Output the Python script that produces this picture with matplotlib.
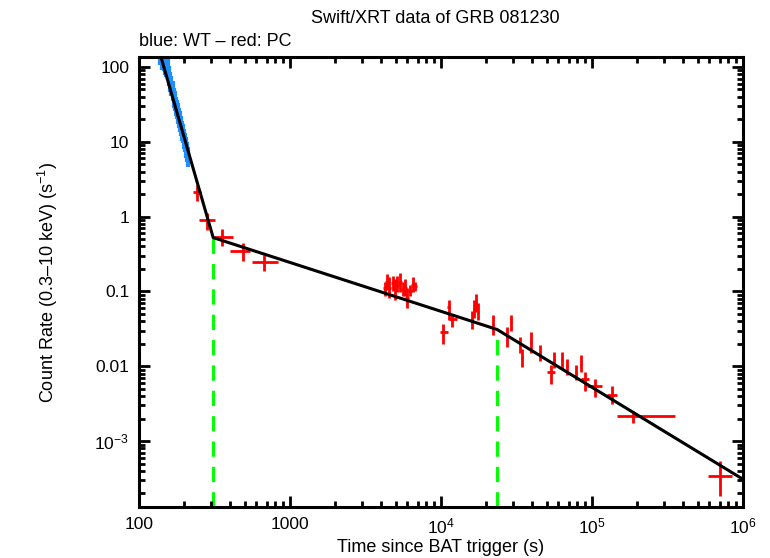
import matplotlib
matplotlib.use('Agg')
import numpy as np
import matplotlib.pyplot as plt
from matplotlib.ticker import LogLocator, FixedLocator, FixedFormatter, NullFormatter

plt.rcParams['font.family'] = ['Liberation Sans', 'DejaVu Sans']
plt.rcParams['mathtext.fontset'] = 'custom'
plt.rcParams['mathtext.rm'] = 'Liberation Sans'
plt.rcParams['mathtext.it'] = 'Liberation Sans'

# WT mode data (blue)
wt_t = [137, 140, 143, 146, 149, 152, 155, 158, 161, 164, 167, 170, 173,
        176, 179, 182, 185, 188, 191, 194, 197, 200, 203, 206, 209, 212]
wt_rate = [150, 150, 132, 125, 112, 105, 98, 80, 66, 58, 50, 40, 37,
           31, 28, 25, 22, 19.5, 17, 14.5, 13.5, 11.5, 10.2, 8.8, 7.6, 6.6]
wt_err = [45, 45, 40, 38, 34, 32, 30, 24, 20, 17, 15, 12, 11,
          9, 8, 7.5, 6.5, 6, 5, 4.3, 4, 3.4, 3, 2.7, 2.3, 2.0]

# PC mode data (red): time, time bin edges, rate, rate bounds
pc_t = [242, 282, 355, 489, 673,
        4259, 4389, 4527, 4812, 4957, 5114, 5350, 5598, 5777, 5954, 6230, 6527, 6728,
        10300, 11220, 11920, 16030, 16540, 17070, 17600, 22090, 27350, 29080,
        33340, 34370, 39450, 45300, 53460, 56000, 63200, 68200, 78300, 84600,
        89900, 104800, 135500, 187000, 705000]
pc_tlo = [228, 250, 314, 401, 560,
          4150, 4280, 4410, 4690, 4830, 4980, 5210, 5450, 5630, 5800, 6070, 6360, 6560,
          9840, 11000, 11300, 15700, 16200, 16700, 17250, 21650, 26800, 28500,
          32700, 33700, 38650, 44400, 50380, 54900, 61900, 66800, 76700, 82900,
          85000, 92700, 125600, 146500, 586000]
pc_thi = [258, 318, 420, 543, 833,
          4370, 4500, 4640, 4930, 5080, 5240, 5490, 5740, 5920, 6110, 6390, 6690, 6900,
          11120, 11450, 12770, 16350, 16900, 17450, 17950, 22550, 27900, 29650,
          34000, 35050, 40250, 46200, 56900, 57100, 64500, 69600, 79900, 86300,
          95000, 116400, 146500, 354600, 845000]
pc_rate = [2.15, 0.91, 0.54, 0.352, 0.251,
           0.110, 0.136, 0.113, 0.128, 0.107, 0.124, 0.132, 0.107, 0.113, 0.083, 0.103, 0.124, 0.117,
           0.0284, 0.0612, 0.0423, 0.042, 0.0577, 0.0713, 0.054, 0.0363, 0.025, 0.0386,
           0.0197, 0.0131, 0.0209, 0.0149, 0.0083, 0.0123, 0.0123, 0.0100, 0.0083, 0.0109,
           0.0068, 0.0054, 0.0042, 0.00216, 0.000341]
pc_rlo = [1.63, 0.67, 0.40, 0.259, 0.19,
          0.086, 0.106, 0.081, 0.10, 0.078, 0.097, 0.097, 0.086, 0.088, 0.061, 0.086, 0.097, 0.10,
          0.0197, 0.042, 0.0331, 0.032, 0.044, 0.054, 0.041, 0.026, 0.018, 0.030,
          0.015, 0.0097, 0.015, 0.0118, 0.0058, 0.0095, 0.0092, 0.0077, 0.0065, 0.0085,
          0.0047, 0.0039, 0.0031, 0.00174, 0.000185]
pc_rhi = [2.67, 1.13, 0.69, 0.45, 0.311,
          0.136, 0.169, 0.154, 0.163, 0.145, 0.159, 0.174, 0.132, 0.145, 0.113, 0.124, 0.154, 0.136,
          0.0363, 0.078, 0.0494, 0.055, 0.076, 0.094, 0.071, 0.049, 0.034, 0.049,
          0.025, 0.017, 0.029, 0.019, 0.0103, 0.0155, 0.0157, 0.0125, 0.0103, 0.014,
          0.0085, 0.0067, 0.0054, 0.00251, 0.000541]

# broken power-law model (nodes) and break times
model_t = [130, 310, 23500, 1.0e6]
model_rate = [225, 0.525, 0.0311, 3.1e-4]
break_t = [310, 23500]
break_rate = [0.525, 0.0311]

fig = plt.figure(figsize=(7.7, 5.58), dpi=100)
ax = fig.add_axes([0.1805, 0.0914, 0.7844, 0.8065])

xmin, xmax = 100, 1e6
ymin, ymax = 1.32e-4, 136

# blue WT
ax.errorbar(wt_t, wt_rate, xerr=2.5, yerr=wt_err, fmt='none',
            ecolor='#1e8fff', elinewidth=3.0, capsize=0, zorder=2)

# red PC
pc_t_a = np.array(pc_t)
pc_r_a = np.array(pc_rate)
xerr = [pc_t_a - np.array(pc_tlo), np.array(pc_thi) - pc_t_a]
yerr = [pc_r_a - np.array(pc_rlo), np.array(pc_rhi) - pc_r_a]
ax.errorbar(pc_t, pc_rate, xerr=xerr, yerr=yerr, fmt='none',
            ecolor='#ff0000', elinewidth=2.0, capsize=0, zorder=2)

# model
ax.plot(model_t, model_rate, color='black', lw=2.2, zorder=3)

# breaks
for bt, br in zip(break_t, break_rate):
    ax.plot([bt, bt], [ymin, br], color='#00ff00', lw=2.2,
            dashes=(5, 3.3), zorder=1)

ax.set_xscale('log')
ax.set_yscale('log')
ax.set_xlim(xmin, xmax)
ax.set_ylim(ymin, ymax)

ax.xaxis.set_major_locator(FixedLocator([1e2, 1e3, 1e4, 1e5, 1e6]))
ax.xaxis.set_major_formatter(FixedFormatter(['100', '1000', r'$10^4$', r'$10^5$', r'$10^6$']))
ax.yaxis.set_major_locator(FixedLocator([1e-3, 1e-2, 1e-1, 1, 10, 100]))
ax.yaxis.set_major_formatter(FixedFormatter([r'$10^{-3}$', '0.01', '0.1', '1', '10', '100']))
ax.xaxis.set_minor_locator(LogLocator(base=10, subs=np.arange(2, 10)))
ax.yaxis.set_minor_locator(LogLocator(base=10, subs=np.arange(2, 10)))
ax.xaxis.set_minor_formatter(NullFormatter())
ax.yaxis.set_minor_formatter(NullFormatter())

ax.tick_params(which='both', direction='in', top=True, right=True, width=2, labelsize=12.5)
ax.tick_params(which='major', length=8, pad=7)
ax.tick_params(which='minor', length=4)
for s in ax.spines.values():
    s.set_linewidth(2.2)

ax.set_xlabel('Time since BAT trigger (s)', fontsize=13, labelpad=2)
ax.set_ylabel('Count Rate (0.3\u201310 keV) (s$^{-1}$)', fontsize=13, labelpad=25)

fig.text(0.565, 0.967, 'Swift/XRT data of GRB 081230', ha='center', va='center', fontsize=13)
ax.text(0.0, 1.035, 'blue: WT \u2013 red: PC', transform=ax.transAxes,
        ha='left', va='center', fontsize=13)

fig.savefig('out.png', dpi=100)
